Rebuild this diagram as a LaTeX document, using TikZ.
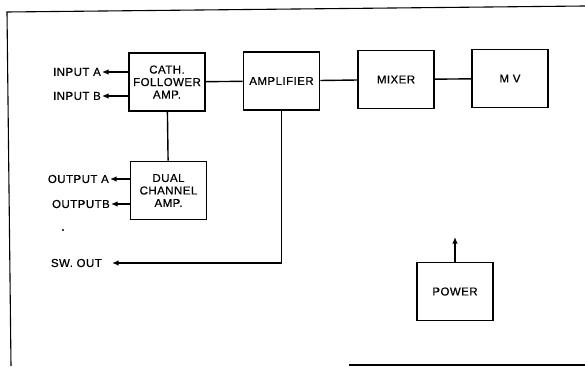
\documentclass[tikz,border=0pt]{standalone}
\usepackage{fontspec}
\setmainfont{Liberation Sans}[FakeBold=0.6, LetterSpace=4]
\usetikzlibrary{arrows.meta}
\begin{document}
\begin{tikzpicture}[x=1pt, y=-1pt,
  block/.style={draw, line width=1.6pt, minimum width=76pt, minimum height=58pt,
                align=center, inner sep=1pt, font=\fontsize{11.5}{12.5}\selectfont},
  lbl/.style={inner sep=1pt, font=\fontsize{11.5}{12.5}\selectfont},
  link/.style={line width=1.4pt},
  arr/.style={link, -{Latex[length=6.5pt, width=5.5pt]}},
  frame/.style={line width=1.1pt}
]
  \useasboundingbox (0,0) rectangle (585,366);

  % frame of the page
  \draw[frame] (585,6) -- (7,12) -- (11,366);
  \draw[frame] (349,365) -- (585,365);

  \node[block] (cath) at (167,82) {CATH.\\FOLLOWER\\AMP.};
  \node[block] (amp) at (281.5,81) {AMPLIFIER};
  \node[block] (mixer) at (396,79.5) {MIXER};
  \node[block] (mv) at (510,78.5) {M V};
  \node[block] (dual) at (168.5,190.5) {DUAL\\CHANNEL\\AMP.};
  \node[block] (power) at (455,291.5) {POWER};

  \node[lbl, anchor=east] (ina) at (102,72) {INPUT A};
  \node[lbl, anchor=east] (inb) at (102,96) {INPUT B};
  \node[lbl, anchor=east] (outa) at (110,179) {OUTPUT A};
  \node[lbl, anchor=east] (outb) at (111,204) {OUTPUTB};
  \node[lbl, anchor=east] (sw) at (103,263) {SW. OUT};
  \coordinate (swtip) at (112,263);
  \coordinate (pwrtip) at (455,237);
  \fill (63,230) circle (1.2pt);

  \draw[link] (cath) -- (amp);
  \draw[link] (amp) -- (mixer);
  \draw[link] (mixer) -- (mv);
  \draw[link] (cath) -- (dual);
  \draw[arr] (cath.west |- ina) -- (ina.east);
  \draw[arr] (cath.west |- inb) -- (inb.east);
  \draw[arr] (dual.west |- outa) -- (outa.east);
  \draw[arr] (dual.west |- outb) -- (outb.east);
  \draw[arr] (amp.south) |- (swtip);
  \draw[arr] (power.north) -- (pwrtip);
\end{tikzpicture}
\end{document}
